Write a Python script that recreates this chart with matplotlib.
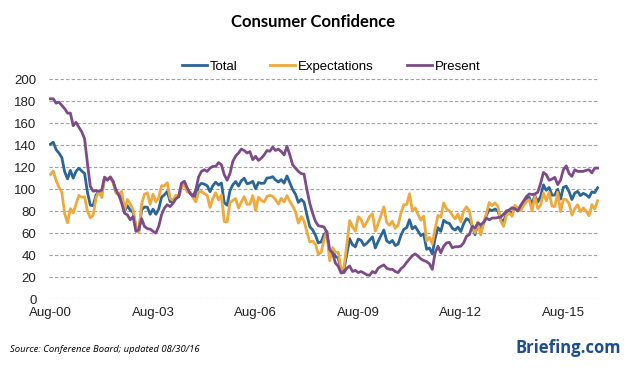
import matplotlib.pyplot as plt

# Monthly index values, Aug-2000 .. Aug-2016
total = [140.8, 142.5, 135.8, 132.6, 128.6,
         115.7, 109.2, 116.9, 109.9, 116.1, 118.9, 116.3, 114.0, 97.0, 85.3, 84.9, 94.6,
         97.8, 95.0, 110.7, 108.5, 110.3, 106.3, 97.4, 94.5, 93.7, 79.6, 84.9, 80.7,
         78.8, 64.8, 61.4, 81.0, 83.6, 83.5, 77.0, 81.7, 77.0, 81.7, 92.5, 94.8,
         97.7, 88.5, 88.5, 93.0, 93.1, 102.8, 105.7, 98.7, 96.7, 92.9, 92.6, 102.7,
         105.1, 104.4, 103.0, 97.5, 103.1, 106.2, 103.6, 105.5, 87.5, 85.2, 98.3, 103.8,
         106.8, 102.7, 107.5, 109.8, 104.7, 105.4, 107.0, 100.2, 105.9, 105.1, 105.3, 110.0,
         110.2, 111.2, 108.2, 106.3, 108.5, 105.3, 111.9, 105.6, 99.5, 95.2, 87.8, 90.6,
         87.9, 76.4, 65.9, 62.8, 58.1, 51.0, 51.9, 58.5, 61.4, 38.8, 44.7, 38.6,
         37.4, 25.3, 26.9, 40.8, 54.8, 49.3, 47.4, 54.5, 53.4, 48.7, 50.6, 53.6,
         56.5, 46.4, 52.3, 57.7, 62.7, 52.9, 51.0, 53.2, 48.6, 49.9, 57.8, 63.4,
         64.8, 72.0, 63.8, 66.0, 61.7, 57.6, 59.2, 45.2, 46.4, 40.9, 55.2, 64.8,
         61.5, 71.6, 69.5, 68.7, 64.4, 62.7, 65.4, 61.3, 68.4, 73.1, 71.5, 66.7,
         58.4, 69.6, 61.9, 69.0, 76.2, 81.4, 80.3, 81.8, 80.2, 72.4, 70.4, 77.5,
         79.4, 78.3, 83.9, 81.7, 82.2, 86.4, 90.3, 92.4, 86.0, 94.1, 88.1, 93.1,
         103.8, 98.8, 101.4, 94.3, 94.6, 99.8, 90.9, 101.5, 102.6, 97.6, 90.4, 96.3,
         97.8, 94.0, 96.1, 94.7, 92.4, 97.4, 96.7, 101.1]

expectations = [113.3, 116.2, 107.7, 101.7, 97.0,
                77.5, 69.3, 82.2, 78.2, 86.5, 94.2, 92.5, 93.0, 79.7, 73.8, 76.2, 92.0,
                97.7, 92.3, 110.8, 108.8, 109.8, 105.8, 96.3, 94.5, 98.0, 80.7, 90.5, 86.5,
                81.3, 67.0, 60.3, 86.3, 95.3, 96.5, 86.0, 95.2, 88.3, 92.2, 103.0, 102.8,
                105.7, 91.5, 89.5, 94.3, 93.2, 101.0, 104.8, 97.2, 97.2, 92.5, 88.3, 97.2,
                97.8, 95.7, 94.3, 83.2, 91.4, 96.6, 90.0, 94.5, 70.5, 70.0, 87.8, 89.7,
                91.3, 82.7, 88.3, 93.0, 86.0, 86.3, 94.0, 80.5, 92.5, 89.8, 88.2, 93.3,
                94.2, 93.3, 90.3, 86.3, 91.5, 88.2, 94.0, 88.7, 84.5, 79.3, 69.0, 75.0,
                70.8, 61.0, 51.8, 52.7, 49.8, 40.7, 42.5, 53.8, 62.0, 34.8, 46.7, 42.5,
                42.5, 26.5, 28.8, 49.3, 71.3, 65.5, 61.7, 74.8, 72.3, 65.5, 69.7, 75.0,
                77.5, 61.7, 68.5, 76.3, 83.8, 69.5, 67.0, 70.7, 64.3, 67.2, 78.0, 85.8,
                85.8, 95.7, 80.0, 82.7, 76.8, 71.7, 75.3, 52.7, 56.0, 50.2, 64.0, 76.0,
                74.5, 87.3, 81.8, 80.2, 76.3, 72.8, 77.3, 70.2, 80.0, 83.8, 80.2, 67.0,
                60.0, 70.0, 58.2, 68.7, 78.0, 87.7, 84.8, 87.3, 84.3, 71.0, 66.0, 75.8,
                78.3, 75.2, 85.2, 82.8, 80.3, 84.7, 88.5, 90.3, 80.0, 93.2, 82.2, 85.2,
                96.3, 89.3, 97.0, 84.5, 84.0, 97.0, 79.5, 90.8, 90.3, 86.7, 76.3, 82.2,
                85.7, 79.3, 82.8, 79.8, 75.7, 85.8, 81.8, 89.2]

present = [182, 182, 178, 179, 176,
           173, 169, 169, 157.5, 160.6, 156, 152, 145.5, 123, 102.4, 98, 98.5,
           98, 99, 110.6, 108, 111, 107, 99, 94.5, 87, 78, 76.5, 72,
           75, 61.5, 63, 73, 66, 64, 63.5, 61.5, 60, 66, 76.6, 82.7,
           85.7, 84, 87, 91, 93, 105.4, 107, 101, 96, 93.5, 99, 111,
           116, 117.5, 116, 119, 120.6, 120.6, 124, 122, 113, 108, 114, 125,
           130, 132.7, 136.3, 135, 132.7, 134, 126.6, 129.7, 126, 128, 131, 135,
           134.3, 138, 135, 136.3, 134, 131, 138.8, 131, 122, 119, 116, 114,
           113.5, 99.4, 87, 78, 70.6, 66.6, 66, 65.5, 60.6, 44.8, 41.8, 32.7,
           29.7, 23.6, 24, 28, 30, 25, 26, 24, 25, 23.6, 22, 21.5,
           25, 23.6, 28, 29.7, 31, 28, 27, 27, 25, 24, 27.5, 29.7,
           33.3, 36.4, 39.4, 41, 39, 36.4, 35, 34, 32, 27, 42, 48,
           42, 48, 51, 51.5, 46.6, 47.5, 47.5, 48, 51, 57, 58.5, 66,
           64.5, 69, 67.5, 69.6, 73.6, 72, 73.6, 73.6, 74, 74.5, 77, 80,
           81, 83, 82, 80, 85, 89, 93, 95.5, 95, 95.5, 97, 105,
           115, 113, 108, 109, 110.6, 104, 108, 117.5, 121, 114, 111.5, 117.5,
           116, 116, 116, 117, 117.5, 114.7, 119, 119]

tick_labels = ['Aug-00', 'Aug-03', 'Aug-06', 'Aug-09', 'Aug-12', 'Aug-15']

months = list(range(len(total)))

plt.rcParams['font.family'] = ['Liberation Sans', 'DejaVu Sans']

fig = plt.figure(figsize=(6.26, 3.67), dpi=100)
ax = fig.add_axes([49 / 626, 68 / 367, 550 / 626, 220 / 367])

ax.plot(months, total, color='#2A6699', lw=2.0, label='Total')
ax.plot(months, expectations, color='#F0A93C', lw=2.0, label='Expectations')
ax.plot(months, present, color='#7D4B8A', lw=2.0, label='Present')

ax.set_xlim(-0.5, len(total) - 0.5)
ax.set_ylim(0, 200)
ax.set_yticks(range(0, 201, 20))
ax.set_xticks(range(0, len(total), 36))
ax.set_xticklabels(tick_labels)
ax.tick_params(length=0, labelsize=9.5, colors='#222222')
ax.tick_params(axis='y', pad=9)
ax.tick_params(axis='x', pad=6)
ax.grid(axis='y', color='#A0A0A0', ls=(0, (3, 2)), lw=0.8)
ax.set_axisbelow(True)
for s in ax.spines.values():
    s.set_visible(False)

fig.text(0.5, 1 - 22 / 367, 'Consumer Confidence', ha='center', va='center',
         fontsize=12, fontweight='bold', family='Lato')
fig.legend(loc='center', bbox_to_anchor=(331 / 626, 1 - 67 / 367), ncol=3,
           frameon=False, fontsize=9.5, handlelength=1.9, handletextpad=0.2,
           columnspacing=2.5)

fig.text(10 / 626, 1 - 350 / 367, 'Source: Conference Board; updated 08/30/16',
         ha='left', va='center', fontsize=6.8, style='italic', family='Open Sans')
fig.text(621 / 626, 1 - 348 / 367, 'Briefing.com', ha='right', va='center',
         fontsize=12, fontweight='bold', color='#1F4E8C', family='Open Sans')

fig.savefig('out.png', dpi=100)
